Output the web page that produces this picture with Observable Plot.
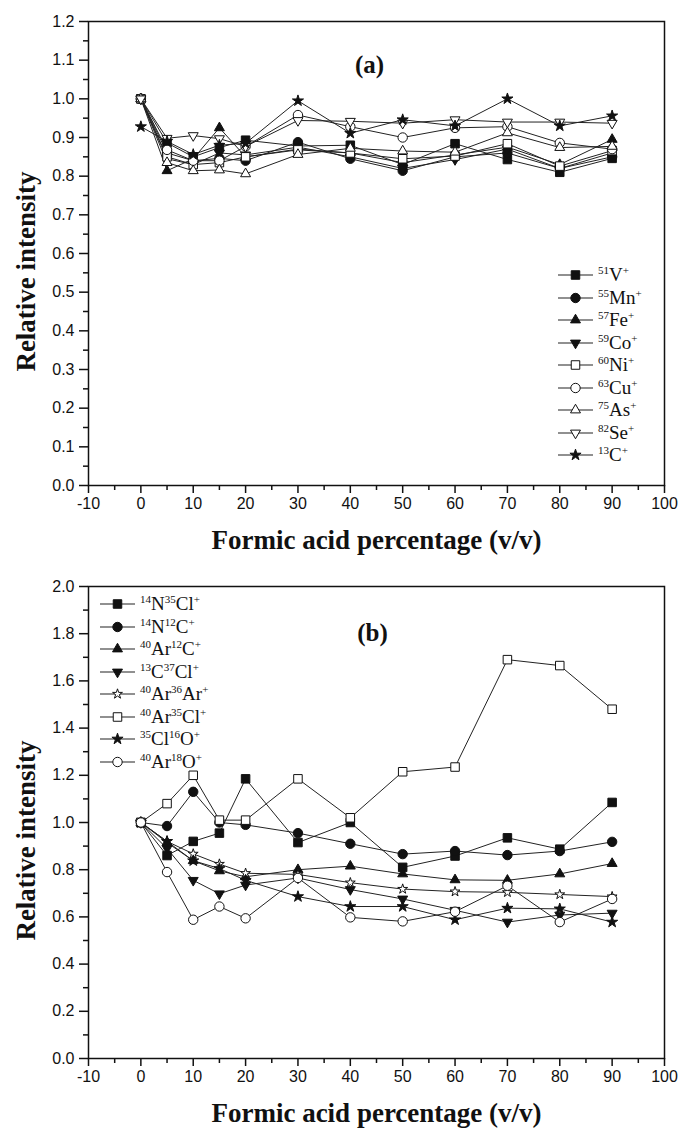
<!DOCTYPE html>
<html><head><meta charset="utf-8">
<script src="https://cdn.jsdelivr.net/npm/d3@7"></script>
<script src="https://cdn.jsdelivr.net/npm/@observablehq/plot@0.6"></script>
<style>
body{margin:0;background:#fff;}
#wrap{position:relative;width:678px;height:1129px;overflow:hidden;background:#fff;}
#wrap svg.plot{display:block;}
.lg{position:absolute;font-family:"Liberation Serif","Times New Roman",serif;font-size:19px;color:#111;}
.row{position:absolute;left:0;height:22px;display:flex;align-items:center;white-space:nowrap;}
.row sup{font-size:11px;vertical-align:0;position:relative;top:-7px;}
.row .t{margin-left:4px;}
</style></head><body><div id="wrap"></div>
<script>
// ---------- data ----------
const xs = [0, 5, 10, 15, 20, 30, 40, 50, 60, 70, 80, 90];

// panel (a)
const V51  = [1.0, 0.886, 0.85, 0.874, 0.893, 0.878, 0.88, 0.83, 0.884, 0.843, 0.81, 0.846];
const Mn55 = [1.0, 0.86, 0.84, 0.846, 0.84, 0.888, 0.845, 0.814, 0.85, 0.86, 0.82, 0.85];
const Fe57 = [1.0, 0.814, 0.845, 0.925, 0.85, 0.87, 0.86, 0.835, 0.855, 0.875, 0.83, 0.895];
const Co59 = [1.0, 0.845, 0.83, 0.86, 0.855, 0.875, 0.85, 0.82, 0.843, 0.87, 0.82, 0.86];
const Ni60 = [1.0, 0.85, 0.83, 0.835, 0.85, 0.868, 0.86, 0.845, 0.852, 0.884, 0.826, 0.866];
const Cu63 = [1.0, 0.868, 0.84, 0.84, 0.877, 0.958, 0.928, 0.9, 0.925, 0.928, 0.886, 0.87];
const As75 = [1.0, 0.835, 0.814, 0.816, 0.806, 0.856, 0.872, 0.865, 0.862, 0.912, 0.874, 0.877];
const Se82 = [1.0, 0.898, 0.905, 0.897, 0.877, 0.944, 0.942, 0.937, 0.946, 0.94, 0.94, 0.937];
const C13  = [0.928, 0.89, 0.856, 0.88, 0.885, 0.995, 0.911, 0.946, 0.93, 1.0, 0.93, 0.956];

// panel (b)
const N14Cl35 = [1.0, 0.86, 0.92, 0.955, 1.185, 0.915, 1.0, 0.81, 0.858, 0.935, 0.887, 1.085];
const N14C12  = [1.0, 0.985, 1.13, 1.0, 0.99, 0.955, 0.91, 0.866, 0.879, 0.862, 0.879, 0.918];
const Ar40C12 = [1.0, 0.915, 0.838, 0.795, 0.77, 0.8, 0.815, 0.782, 0.757, 0.755, 0.782, 0.826];
const C13Cl37 = [1.0, 0.89, 0.755, 0.698, 0.735, 0.765, 0.716, 0.676, 0.628, 0.578, 0.608, 0.616];
const Ar40Ar36 = [1.0, 0.92, 0.867, 0.824, 0.785, 0.78, 0.745, 0.718, 0.707, 0.704, 0.695, 0.686];
const Ar40Cl35 = [1.0, 1.08, 1.2, 1.01, 1.01, 1.185, 1.02, 1.215, 1.235, 1.69, 1.665, 1.48];
const Cl35O16 = [1.0, 0.92, 0.838, 0.805, 0.755, 0.686, 0.644, 0.644, 0.588, 0.637, 0.634, 0.578];
const Ar40O18 = [1.0, 0.79, 0.588, 0.644, 0.594, 0.765, 0.598, 0.581, 0.622, 0.732, 0.578, 0.676];

// tick labels
const xTicks = [-10, 0, 10, 20, 30, 40, 50, 60, 70, 80, 90, 100];
const xMinor = [-5, 5, 15, 25, 35, 45, 55, 65, 75, 85, 95];
const yTicksA = [0, 0.1, 0.2, 0.3, 0.4, 0.5, 0.6, 0.7, 0.8, 0.9, 1.0, 1.1, 1.2];
const yMinorA = [0.05, 0.15, 0.25, 0.35, 0.45, 0.55, 0.65, 0.75, 0.85, 0.95, 1.05, 1.15];
const yTicksB = [0, 0.2, 0.4, 0.6, 0.8, 1.0, 1.2, 1.4, 1.6, 1.8, 2.0];
const yMinorB = [0.1, 0.3, 0.5, 0.7, 0.9, 1.1, 1.3, 1.5, 1.7, 1.9];

const labelsA = ["<sup>51</sup>V<sup>+</sup>", "<sup>55</sup>Mn<sup>+</sup>", "<sup>57</sup>Fe<sup>+</sup>",
  "<sup>59</sup>Co<sup>+</sup>", "<sup>60</sup>Ni<sup>+</sup>", "<sup>63</sup>Cu<sup>+</sup>",
  "<sup>75</sup>As<sup>+</sup>", "<sup>82</sup>Se<sup>+</sup>", "<sup>13</sup>C<sup>+</sup>"];
const labelsB = ["<sup>14</sup>N<sup>35</sup>Cl<sup>+</sup>", "<sup>14</sup>N<sup>12</sup>C<sup>+</sup>",
  "<sup>40</sup>Ar<sup>12</sup>C<sup>+</sup>", "<sup>13</sup>C<sup>37</sup>Cl<sup>+</sup>",
  "<sup>40</sup>Ar<sup>36</sup>Ar<sup>+</sup>", "<sup>40</sup>Ar<sup>35</sup>Cl<sup>+</sup>",
  "<sup>35</sup>Cl<sup>16</sup>O<sup>+</sup>", "<sup>40</sup>Ar<sup>18</sup>O<sup>+</sup>"];

// ---------- symbols ----------
const s3 = Math.sqrt(3);
const triDown = {draw(ctx, size) {
  const y = -Math.sqrt(size / (s3 * 3));
  ctx.moveTo(0, -y * 2); ctx.lineTo(-s3 * y, y); ctx.lineTo(s3 * y, y); ctx.closePath();
}};
const SYM = {
  sq: [d3.symbolSquare, 4.8], ci: [d3.symbolCircle, 4.7], tu: [d3.symbolTriangle, 3.7],
  td: [triDown, 3.7], st: [d3.symbolStar, 3.5], sto: [d3.symbolStar, 3.1]
};
const INK = "#111";

const seriesA = [
  {v: V51, s: "sq", f: INK}, {v: Mn55, s: "ci", f: INK}, {v: Fe57, s: "tu", f: INK},
  {v: Co59, s: "td", f: INK}, {v: Ni60, s: "sq", f: "#fff"}, {v: Cu63, s: "ci", f: "#fff"},
  {v: As75, s: "tu", f: "#fff"}, {v: Se82, s: "td", f: "#fff"}, {v: C13, s: "st", f: INK}
];
const seriesB = [
  {v: N14Cl35, s: "sq", f: INK}, {v: N14C12, s: "ci", f: INK}, {v: Ar40C12, s: "tu", f: INK},
  {v: C13Cl37, s: "td", f: INK}, {v: Ar40Ar36, s: "sto", f: "#fff"}, {v: Ar40Cl35, s: "sq", f: "#fff"},
  {v: Cl35O16, s: "st", f: INK}, {v: Ar40O18, s: "ci", f: "#fff"}
];

const tickFont = "'Liberation Sans', Arial, sans-serif";
const titleFont = "'Liberation Serif', 'Times New Roman', serif";

function panel({series, ydom, yT, yM, height, mt, mb, tag, tagDy, tagDx, ytDy}) {
  const marks = [];
  series.forEach(s => {
    const rows = xs.map((x, i) => ({x, y: s.v[i]}));
    marks.push(Plot.line(rows, {x: "x", y: "y", stroke: "#222", strokeWidth: 1}));
  });
  series.forEach(s => {
    const rows = xs.map((x, i) => ({x, y: s.v[i]}));
    const [sym, r] = SYM[s.s];
    marks.push(Plot.dot(rows, {x: "x", y: "y", symbol: sym, r, fill: s.f, stroke: INK, strokeWidth: 1}));
  });
  const tt = {fontSize: 27, fontWeight: "bold", fontFamily: titleFont, fill: INK,
    textAnchor: "middle", lineAnchor: "middle"};
  marks.push(
    Plot.axisX({ticks: xTicks, tickSize: 8, tickPadding: 4, strokeWidth: 1.5, label: null,
      fontSize: 16, fontFamily: tickFont, tickFormat: d => String(d)}),
    Plot.axisX({ticks: xMinor, tickSize: 5, strokeWidth: 1.5, label: null, tickFormat: () => ""}),
    Plot.axisY({ticks: yT, tickSize: 9, tickPadding: 5, strokeWidth: 1.5, label: null,
      fontSize: 16, fontFamily: tickFont, tickFormat: d => d.toFixed(1)}),
    Plot.axisY({ticks: yM, tickSize: 5, strokeWidth: 1.5, label: null, tickFormat: () => ""}),
    Plot.frame({stroke: INK, strokeWidth: 1.5}),
    Plot.text(["Relative intensity"], {...tt, text: d => d, frameAnchor: "left", rotate: -90, dx: -62, dy: ytDy}),
    Plot.text(["Formic acid percentage (v/v)"], {...tt, text: d => d, frameAnchor: "bottom", dy: 55}),
    Plot.text([tag], {...tt, fontSize: 25, text: d => d, frameAnchor: "top", dy: tagDy, dx: tagDx})
  );
  return Plot.plot({
    width: 678, height, marginLeft: 88, marginRight: 14, marginTop: mt, marginBottom: mb,
    x: {domain: [-10, 100], label: null},
    y: {domain: ydom, label: null},
    style: {background: "#fff", color: INK, overflow: "visible"},
    marks
  });
}

const wrap = document.getElementById("wrap");
wrap.appendChild(panel({series: seriesA, ydom: [0, 1.2], yT: yTicksA, yM: yMinorA,
  height: 560, mt: 21, mb: 75, tag: "(a)", tagDy: 43, tagDx: -7, ytDy: 18}));
wrap.appendChild(panel({series: seriesB, ydom: [0, 2.0], yT: yTicksB, yM: yMinorB,
  height: 569, mt: 26, mb: 71, tag: "(b)", tagDy: 46, tagDx: -4, ytDy: 18}));

function legend(series, labels, left, top0, step) {
  const box = document.createElement("div");
  box.className = "lg";
  box.style.left = left + "px";
  box.style.top = "0px";
  series.forEach((s, i) => {
    const row = document.createElement("div");
    row.className = "row";
    row.style.top = (top0 + step * i - 11) + "px";
    const svg = d3.create("svg").attr("width", 36).attr("height", 22);
    svg.append("line").attr("x1", 0).attr("x2", 35).attr("y1", 11).attr("y2", 11)
      .attr("stroke", "#222").attr("stroke-width", 1.2);
    const [sym, r] = SYM[s.s];
    svg.append("path").attr("transform", "translate(17.5,11)")
      .attr("d", d3.symbol(sym, r * r * Math.PI)())
      .attr("fill", s.f).attr("stroke", INK).attr("stroke-width", 1);
    row.appendChild(svg.node());
    const t = document.createElement("span");
    t.className = "t";
    t.innerHTML = labels[i];
    row.appendChild(t);
    box.appendChild(row);
  });
  wrap.appendChild(box);
}
legend(seriesA, labelsA, 558, 275, 22.5);
legend(seriesB, labelsB, 100, 604, 22.5);
</script></body></html>
